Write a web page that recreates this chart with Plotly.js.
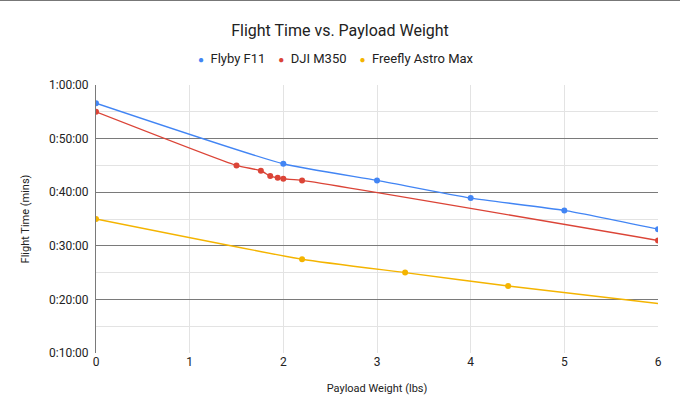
<!DOCTYPE html>
<html>
<head>
<meta charset="utf-8">
<script src="https://cdn.plot.ly/plotly-3.0.1.min.js"></script>
<style>
  body{margin:0;background:#fff}
  #topline{position:absolute;left:0;top:0;width:680px;height:1px;background:#777;z-index:5}
</style>
</head>
<body>
<div id="topline"></div>
<div id="chart" style="width:680px;height:420px"></div>
<script>
// payload (lbs) and flight time (minutes)
var flybyX = [0, 2, 3, 4, 5, 6]
var flybyY = [56.6, 45.3, 42.2, 38.9, 36.6, 33.1]

var djiX = [0, 1.5, 1.76, 1.86, 1.94, 2.0, 2.2, 6]
var djiY = [55, 45, 44, 43, 42.7, 42.5, 42.2, 31]

var freeflyX = [0, 2.2, 3.3, 4.4, 6.6]
var freeflyY = [35, 27.5, 25, 22.5, 18]

var seriesNames = ['Flyby F11', 'DJI M350', 'Freefly Astro Max']
var seriesColors = ['#4285f4', '#db4437', '#f4b400']

var yTicks = [10, 20, 30, 40, 50, 60]
var yTickText = ['0:10:00', '0:20:00', '0:30:00', '0:40:00', '0:50:00', '1:00:00']

var xs = [flybyX, djiX, freeflyX]
var ys = [flybyY, djiY, freeflyY]

var data = xs.map(function(x, i){
  return {
    x: x, y: ys[i], type: 'scatter', mode: 'lines+markers',
    name: seriesNames[i], showlegend: false,
    line: {color: seriesColors[i], width: 1.4, shape: 'spline', smoothing: 0.5},
    marker: {color: seriesColors[i], size: 6},
    cliponaxis: true
  }
})

// legend drawn as one line of text, dots like the original
var legendText = seriesNames.map(function(n, i){
  return '<span style="color:' + seriesColors[i] + ';font-size:10px">●</span>&nbsp;&nbsp;' + n
}).join('&nbsp;&nbsp;&nbsp;&nbsp;')

var layout = {
  width: 680, height: 420,
  margin: {l: 96, r: 22, t: 85, b: 67},
  paper_bgcolor: '#fff', plot_bgcolor: '#fff',
  font: {family: 'Roboto, Liberation Sans, Arial, sans-serif', color: '#222', size: 12},
  title: {text: 'Flight Time vs. Payload Weight', x: 0.5, xanchor: 'center', y: 0.928, yanchor: 'middle',
          font: {size: 16, color: '#222'}},
  showlegend: false,
  annotations: [{
    text: legendText, xref: 'paper', yref: 'paper', x: 0.427, y: 1.1, xanchor: 'center', yanchor: 'middle',
    showarrow: false, font: {size: 13, color: '#222'}
  }],
  xaxis: {
    range: [0, 6], dtick: 1, tick0: 0, showgrid: true, gridcolor: '#e3e3e3', gridwidth: 1,
    zeroline: false, showline: false, ticks: '', fixedrange: true,
    tickfont: {size: 12, color: '#222'},
    title: {text: 'Payload Weight (lbs)', font: {size: 11, color: '#222'}, standoff: 16}
  },
  yaxis: {
    range: [10, 60], tickvals: yTicks, ticktext: yTickText,
    showgrid: true, gridcolor: '#7a7a7a', gridwidth: 1,
    minor: {dtick: 5, tick0: 5, showgrid: true, gridcolor: '#e3e3e3', gridwidth: 1, ticks: ''},
    zeroline: false, showline: true, linecolor: '#7a7a7a', linewidth: 1, mirror: false,
    ticks: '', ticklabelstandoff: 4,
    tickfont: {size: 12, color: '#222'},
    title: {text: 'Flight Time (mins)', font: {size: 11, color: '#222'}, standoff: 17}
  }
}

Plotly.newPlot('chart', data, layout, {displayModeBar: false, staticPlot: true})
</script>
</body>
</html>
